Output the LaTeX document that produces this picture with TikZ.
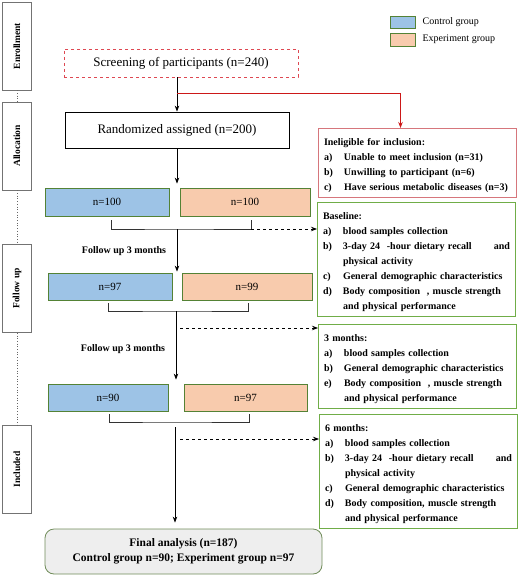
\documentclass[tikz,border=0pt]{standalone}
\usepackage{fontspec}
\setmainfont{Liberation Serif}
\usetikzlibrary{arrows.meta, positioning}
\definecolor{CtrlBlue}{RGB}{157,195,230}
\definecolor{ExpOrange}{RGB}{248,203,173}
\definecolor{GroupGreen}{RGB}{84,130,53}
\definecolor{InfoGreen}{RGB}{112,173,71}
\definecolor{ScreenRed}{RGB}{222,72,82}
\definecolor{ExclRed}{RGB}{214,118,124}
\definecolor{ArrowRed}{RGB}{204,24,24}
\definecolor{FinalGray}{RGB}{238,238,238}
\definecolor{FinalEdge}{RGB}{112,140,90}
\newcommand{\itm}[1]{\makebox[20pt][l]{#1}}
\newcommand{\ttl}[1]{\rule{0pt}{12pt}#1}

\begin{document}
\begin{tikzpicture}[
    x=1pt, y=-1pt,
    every node/.style={font=\fontsize{10}{12}\selectfont, align=center},
    stagebox/.style={rectangle, draw=black!55, fill=white, line width=0.7pt, rotate=90, minimum width=88pt, minimum height=29pt, inner sep=0pt, font=\bfseries\fontsize{9.5}{11}\selectfont},
    flowbox/.style={rectangle, draw=black, line width=0.8pt, font=\fontsize{13}{15}\selectfont},
    ctrlbox/.style={rectangle, draw=GroupGreen, fill=CtrlBlue, line width=0.8pt, minimum height=27pt, font=\fontsize{11}{13}\selectfont},
    expbox/.style={ctrlbox, fill=ExpOrange},
    infobox/.style={rectangle, draw=InfoGreen, line width=1pt, anchor=north west, text width=187pt, inner xsep=5.5pt, inner ysep=5pt, align=left, font=\bfseries\fontsize{10}{15}\selectfont},
    exclbox/.style={infobox, draw=ExclRed},
    finalbox/.style={rectangle, draw=FinalEdge, fill=FinalGray, rounded corners=9pt, line width=0.8pt, minimum width=277pt, minimum height=45pt, font=\bfseries\fontsize{11.5}{15}\selectfont},
    steplabel/.style={font=\bfseries\fontsize{10}{12}\selectfont},
    arrow/.style={-{Stealth[length=6pt,width=4.5pt]}, line width=0.8pt},
    redarrow/.style={arrow, draw=ArrowRed},
    dasharrow/.style={arrow, dashed},
    bracket/.style={line width=0.8pt, draw=black!80},
    stageline/.style={dotted, draw=black!60, line width=0.7pt}
  ]
    \useasboundingbox (0,0) rectangle (520,577);

    % Stage column
    \node[stagebox] (enroll) at (17,46) {Enrollment};
    \node[stagebox] (alloc) at (17,146) {Allocation};
    \node[stagebox] (follow) at (17,288.5) {Follow up};
    \node[stagebox] (incl) at (17,469.5) {Included};
    \draw[stageline] (enroll) -- (alloc);
    \draw[stageline] (alloc) -- (follow);
    \draw[stageline] (follow) -- (incl);

    % Legend
    \node[ctrlbox, minimum width=25pt, minimum height=12pt] (legc) at (402.5,22.5) {};
    \node[right=5pt of legc, inner sep=2pt] (legctxt) {Control group};
    \node[expbox, minimum width=25pt, minimum height=13pt] (lege) at (402.5,39.5) {};
    \node[right=5pt of lege, inner sep=2pt] (legetxt) {Experiment group};

    % Enrollment and allocation
    \node[flowbox, draw=ScreenRed, dashed, minimum width=234pt, minimum height=28pt] (screen) at (181,63) {Screening of participants (n=240)};
    \node[flowbox, minimum width=224pt, minimum height=36pt] (rand) at (177,130) {Randomized assigned (n=200)};
    \node[exclbox] (excl) at (318,128) {\ttl{Ineligible for inclusion:}\\
      \itm{a)}Unable to meet inclusion (n=31)\\
      \itm{b)}Unwilling to participant (n=6)\\
      \itm{c)}Have serious metabolic diseases (n=3)};
    \coordinate (split) at (177,93);
    \draw[arrow] (rand.north |- screen.south) -- (rand.north);
    \draw[redarrow] (split) -| ([xshift=-17pt]excl.north);

    % Measurement boxes
    \node[infobox] (base) at (317,202) {\ttl{Baseline:}\\
      \itm{a)}blood samples collection\\
      \itm{b)}3-day 24\ \ -hour dietary recall\hfill and\\
      \hspace*{20pt}physical activity\\
      \itm{c)}General demographic characteristics\\
      \itm{d)}Body composition\ \ , muscle strength\\
      \hspace*{20pt}and physical performance};
    \node[infobox] (three) at (318,324) {\ttl{3 months:}\\
      \itm{a)}blood samples collection\\
      \itm{b)}General demographic characteristics\\
      \itm{e)}Body composition\ \ , muscle strength\\
      \hspace*{20pt}and physical performance};
    \node[infobox] (six) at (319,414) {\ttl{6 months:}\\
      \itm{a)}blood samples collection\\
      \itm{b)}3-day 24\ \ -hour dietary recall\hfill and\\
      \hspace*{20pt}physical activity\\
      \itm{c)}General demographic characteristics\\
      \itm{d)}Body composition, muscle strength\\
      \hspace*{20pt}and physical performance};

    % Groups
    \node[ctrlbox, minimum width=124pt, minimum height=28pt] (c1) at (107,202) {n=100};
    \node[expbox, minimum width=130pt, minimum height=28pt] (e1) at (245,202) {n=100};
    \node[ctrlbox, minimum width=124pt] (c2) at (110,286.5) {n=97};
    \node[expbox, minimum width=130pt] (e2) at (247,286.5) {n=99};
    \node[ctrlbox, minimum width=120pt] (c3) at (108,397.5) {n=90};
    \node[expbox, minimum width=123pt] (e3) at (245.5,397.5) {n=97};
    \node[steplabel] (fu1) at (124,251) {Follow up 3 months};
    \node[steplabel] (fu2) at (123,349) {Follow up 3 months};
    \node[finalbox] (final) at (183.5,551.5) {Final analysis (n=187)\\Control group n=90; Experiment group n=97};

    % Row 1 links
    \coordinate (j1) at (177,229);
    \coordinate (d1) at (251,229);
    \draw[arrow, shorten >=4pt] (rand.south) -- (rand.south |- c1.north);
    \draw[bracket] ([xshift=4pt,yshift=-4pt]c1.south) |- (j1) -| ([xshift=6pt,yshift=-4pt]e1.south);
    \draw[dasharrow] (d1) -- (d1 -| base.west);
    \draw[arrow, shorten >=1pt] (j1) -- (j1 |- c2.north);

    % Row 2 links
    \coordinate (j2) at (176,311);
    \coordinate (d2) at (180,328);
    \draw[bracket] ([xshift=-2pt,yshift=-3pt]c2.south) |- (j2) -| ([xshift=1pt,yshift=-3pt]e2.south);
    \draw[dasharrow] (d2) -- (d2 -| three.west);
    \draw[arrow, shorten >=4pt] (j2) -- (j2 |- c3.north);

    % Row 3 links
    \coordinate (j3) at (175,422);
    \coordinate (d3) at (180,439);
    \draw[bracket] ([xshift=1pt,yshift=-3pt]c3.south) |- (j3) -| ([xshift=3.5pt,yshift=-3pt]e3.south);
    \draw[dasharrow] (d3) -- (d3 -| six.west);
    \draw[arrow, shorten <=5pt, shorten >=6pt] (j3) -- (j3 |- final.north);
\end{tikzpicture}
\end{document}
